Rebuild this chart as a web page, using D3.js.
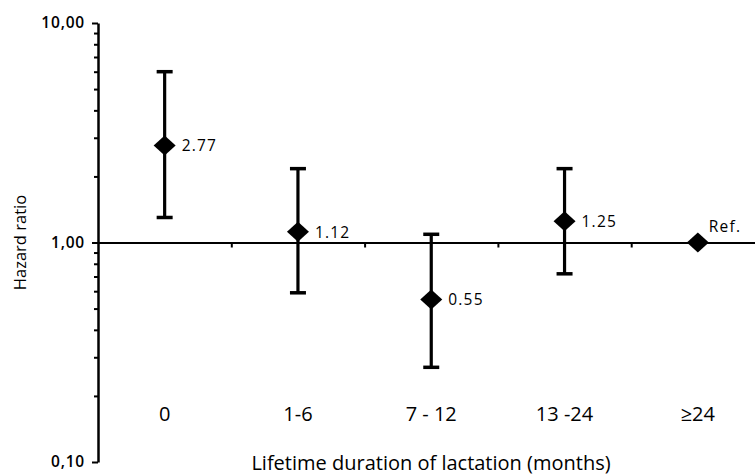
<!DOCTYPE html>
<html>
<head>
<meta charset="utf-8">
<script src="https://cdn.jsdelivr.net/npm/d3@7"></script>
<style>
  body { margin: 0; background: #fff; }
  text { font-family: "Open Sans", "DejaVu Sans", sans-serif; fill: #000; }
</style>
</head>
<body>
<svg id="chart" width="755" height="476"></svg>
<script>
// data
const categories = ["0", "1-6", "7 - 12", "13 -24", "≥24"];
const hazard = [2.77, 1.12, 0.55, 1.25, 1];
const lowerCI = [1.30, 0.59, 0.27, 0.72, null];
const upperCI = [6.0, 2.17, 1.09, 2.17, null];
const valueLabels = ["2.77", "1.12", "0.55", "1.25", "Ref."];
const yMajor = [0.1, 1, 10];

const svg = d3.select("#chart"),
  width = +svg.attr("width"),
  height = +svg.attr("height");

const plotLeft = 98, plotTop = 23, plotBottom = 462;

const y = d3.scaleLog().domain([0.1, 10]).range([plotBottom, plotTop]);
const x = d3.scaleBand().domain(categories).range([plotLeft, plotLeft + 5 * 133.3]);
// positions of the category boundaries for the small ticks on the ref line
const xb = d3.scaleLinear().domain([0, 5]).range([plotLeft, plotLeft + 5 * 133.3]);

const fmt = d => d3.format(".2f")(d).replace(".", ",");

// y axis (log)
const yAxis = svg.append("g")
  .attr("transform", `translate(${plotLeft},0)`)
  .call(d3.axisLeft(y)
    .tickValues(y.ticks())
    .tickFormat(d => yMajor.includes(d) ? fmt(d) : "")
    .tickSizeOuter(0));
yAxis.select(".domain").attr("stroke", "#000").attr("stroke-width", 2.5);
yAxis.selectAll(".tick line")
  .attr("stroke", "#000").attr("stroke-width", 2)
  .attr("x2", d => yMajor.includes(d) ? -6 : -4);
yAxis.selectAll(".tick text")
  .attr("x", -13)
  .attr("fill", "#000")
  .style("font-size", "15.5px")
  .style("font-weight", "600")
  .style("letter-spacing", "0.8px");

// horizontal line at HR = 1
const xAxis = svg.append("g")
  .attr("transform", `translate(0,${y(1)})`)
  .call(d3.axisBottom(xb).tickValues([1, 2, 3, 4]).tickFormat("").tickSize(5).tickSizeOuter(0));
xAxis.select(".domain").attr("stroke", "#000").attr("stroke-width", 2);
xAxis.selectAll(".tick line").attr("stroke", "#000").attr("stroke-width", 2);

// category labels
svg.append("g")
  .selectAll("text")
  .data(categories)
  .join("text")
    .attr("x", d => x(d) + x.bandwidth() / 2)
    .attr("y", 421)
    .attr("text-anchor", "middle")
    .style("font-size", "20px")
    .text(d => d);

// error bars
const bars = svg.append("g");
categories.forEach((c, i) => {
  if (lowerCI[i] == null) return;
  const cx = x(c) + x.bandwidth() / 2;
  bars.append("line")
    .attr("x1", cx).attr("x2", cx)
    .attr("y1", y(upperCI[i])).attr("y2", y(lowerCI[i]))
    .attr("stroke", "#000").attr("stroke-width", 3.2);
  [upperCI[i], lowerCI[i]].forEach(v => {
    bars.append("line")
      .attr("x1", cx - 8).attr("x2", cx + 8)
      .attr("y1", y(v)).attr("y2", y(v))
      .attr("stroke", "#000").attr("stroke-width", 3.5);
  });
});

// diamond markers
const diamond = "M0,-10L11,0L0,10L-11,0Z";
svg.append("g")
  .selectAll("path")
  .data(hazard)
  .join("path")
    .attr("d", diamond)
    .attr("transform", (d, i) => `translate(${x(categories[i]) + x.bandwidth() / 2},${y(d)})`)
    .attr("fill", "#000");

// value labels
svg.append("g")
  .selectAll("text")
  .data(hazard)
  .join("text")
    .attr("x", (d, i) => x(categories[i]) + x.bandwidth() / 2 + (i === 4 ? 11 : 17))
    .attr("y", (d, i) => y(d) + (i === 4 ? -11 : 6))
    .style("font-size", "15.5px")
    .style("letter-spacing", "1.2px")
    .text((d, i) => valueLabels[i]);

// axis titles
svg.append("text")
  .attr("transform", `translate(26,${y(1)}) rotate(-90)`)
  .attr("text-anchor", "middle")
  .style("font-size", "16.5px")
  .text("Hazard ratio");

svg.append("text")
  .attr("x", 431)
  .attr("y", 470)
  .attr("text-anchor", "middle")
  .style("font-size", "20px")
  .text("Lifetime duration of lactation (months)");
</script>
</body>
</html>
